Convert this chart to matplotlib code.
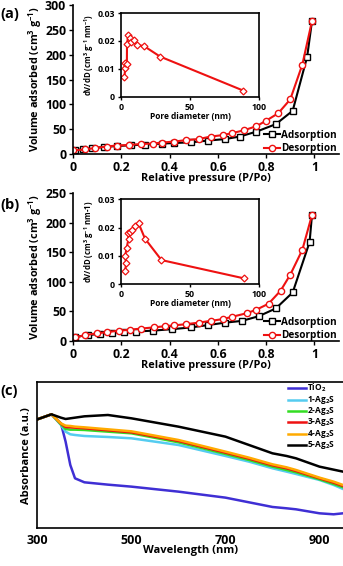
import matplotlib
matplotlib.use("Agg")
import matplotlib.pyplot as plt

FONT = "Open Sans"
plt.rcParams["font.family"] = [FONT, "DejaVu Sans"]
plt.rcParams["font.weight"] = "bold"
plt.rcParams["mathtext.fontset"] = "custom"
plt.rcParams["mathtext.rm"] = FONT + ":bold"
plt.rcParams["mathtext.bf"] = FONT + ":bold"
plt.rcParams["mathtext.it"] = FONT + ":bold"
plt.rcParams["mathtext.default"] = "bf"

# ---- (a) isotherm ----
a_ads_p = [0.01, 0.04, 0.08, 0.13, 0.18, 0.24, 0.30, 0.37, 0.42, 0.49, 0.56, 0.63, 0.69, 0.76, 0.84, 0.91, 0.97, 0.99]
a_ads_v = [7, 10, 12, 14, 16, 17.5, 19, 21, 22, 23.5, 27, 30, 35, 45, 60, 87, 196, 268]
a_des_p = [0.00, 0.05, 0.09, 0.14, 0.18, 0.23, 0.28, 0.33, 0.37, 0.42, 0.47, 0.52, 0.57, 0.62, 0.66, 0.71, 0.76, 0.80, 0.85, 0.90, 0.95, 0.99]
a_des_v = [7, 9, 12, 15, 17, 18, 20, 21, 23, 25, 28, 30, 35, 38, 42, 48, 56, 67, 82, 110, 180, 268]
a_pore_d = [2.4, 3.0, 3.0, 4.2, 4.3, 5.3, 6.5, 7.0, 9.1, 11.5, 16.5, 28.3, 88.7]
a_pore_v = [0.0070, 0.0102, 0.0120, 0.0118, 0.0190, 0.0222, 0.0211, 0.0195, 0.0202, 0.0185, 0.0182, 0.0144, 0.0022]

# ---- (b) isotherm ----
b_ads_p = [0.01, 0.06, 0.11, 0.16, 0.21, 0.26, 0.33, 0.41, 0.49, 0.56, 0.63, 0.70, 0.77, 0.84, 0.91, 0.98, 0.99]
b_ads_v = [7, 10, 12, 14, 15, 16, 17.5, 20, 23, 27, 31, 34, 42, 55, 82, 167, 213]
b_des_p = [0.01, 0.05, 0.10, 0.14, 0.19, 0.235, 0.28, 0.335, 0.38, 0.42, 0.47, 0.52, 0.57, 0.62, 0.66, 0.72, 0.76, 0.81, 0.86, 0.90, 0.95, 0.99]
b_des_v = [6, 10, 13, 15, 17.5, 19, 21, 23, 25, 26.5, 28.5, 31, 34, 37, 41, 47, 53, 63, 85, 112, 154, 213]
b_pore_d = [2.9, 3.7, 2.9, 4.1, 5.4, 4.9, 6.6, 7.8, 9.8, 12.7, 17.3, 29.3, 89.5]
b_pore_v = [0.0047, 0.0073, 0.0099, 0.0129, 0.0161, 0.0181, 0.0184, 0.0191, 0.0206, 0.0215, 0.0161, 0.0085, 0.0020]

# ---- (c) UV-vis ----
wl = [300, 330, 350, 360, 370, 380, 400, 450, 500, 600, 700, 750, 800, 830, 850, 900, 930, 950]
abs_tio2 = [3.27, 3.42, 3.15, 2.60, 1.90, 1.50, 1.38, 1.31, 1.25, 1.10, 0.92, 0.78, 0.64, 0.60, 0.57, 0.45, 0.42, 0.45]
abs_1 = [3.27, 3.42, 3.10, 2.90, 2.82, 2.80, 2.77, 2.74, 2.70, 2.50, 2.17, 2.00, 1.80, 1.70, 1.63, 1.45, 1.30, 1.18]
abs_2 = [3.27, 3.42, 3.12, 2.98, 2.96, 2.96, 2.95, 2.90, 2.85, 2.58, 2.23, 2.05, 1.85, 1.75, 1.68, 1.47, 1.33, 1.23]
abs_3 = [3.27, 3.42, 3.14, 3.04, 3.03, 3.02, 3.00, 2.94, 2.88, 2.62, 2.27, 2.09, 1.89, 1.80, 1.72, 1.50, 1.37, 1.27]
abs_4 = [3.27, 3.42, 3.15, 3.08, 3.07, 3.05, 3.03, 2.97, 2.91, 2.65, 2.30, 2.12, 1.92, 1.83, 1.75, 1.52, 1.40, 1.30]
abs_5 = [3.27, 3.42, 3.32, 3.28, 3.30, 3.32, 3.36, 3.40, 3.30, 3.05, 2.75, 2.50, 2.25, 2.17, 2.10, 1.85, 1.76, 1.70]
uv_labels = ["TiO$_2$", "1-Ag$_2$S", "2-Ag$_2$S", "3-Ag$_2$S", "4-Ag$_2$S", "5-Ag$_2$S"]
uv_colors = ["#3f2fd4", "#55ccf0", "#33dd22", "#ee1111", "#ffaa00", "#000000"]

RED = "#ee1111"

fig = plt.figure(figsize=(3.43, 5.66), dpi=100)


def iso_panel(rect, ads_p, ads_v, des_p, des_v, ymax, ystep):
    ax = fig.add_axes(rect)
    ax.plot(ads_p, ads_v, "-s", color="black", lw=1.5, ms=4.5, mfc="white", mec="black", mew=1, label="Adsorption")
    ax.plot(des_p, des_v, "-o", color=RED, lw=1.5, ms=4.5, mfc="white", mec=RED, mew=1, label="Desorption")
    ax.set_xlim(0, 1.1)
    ax.set_ylim(0, ymax)
    ax.set_xticks([0, 0.2, 0.4, 0.6, 0.8, 1])
    ax.set_xticklabels(["0", "0.2", "0.4", "0.6", "0.8", "1"])
    ax.set_yticks(range(0, ymax + 1, ystep))
    for s in ["top", "right"]:
        ax.spines[s].set_visible(False)
    for s in ["left", "bottom"]:
        ax.spines[s].set_linewidth(1.2)
    ax.tick_params(direction="out", length=3, width=1, labelsize=8.8, pad=2)
    for t in ax.get_xticklabels() + ax.get_yticklabels():
        t.set_fontweight("bold")
    ax.set_xlabel("Relative pressure (P/Po)", fontsize=7.8, fontweight="bold", labelpad=-1)
    ax.set_ylabel("Volume adsorbed (cm$^{3}$ g$^{-1}$)", fontsize=7.8, fontweight="bold", labelpad=1)
    ax.legend(loc="lower right", bbox_to_anchor=(1.02, -0.05), frameon=False, fontsize=7.2,
              handlelength=1.6, handletextpad=0.1, borderpad=0.2, labelspacing=0.25)
    return ax


def inset_panel(rect, d, v, ylabel):
    ax = fig.add_axes(rect)
    ax.plot(d, v, "-D", color=RED, lw=1.5, ms=3.5, mfc="white", mec=RED, mew=0.9)
    ax.set_xlim(0, 100)
    ax.set_ylim(0, 0.03)
    ax.set_xticks([0, 50, 100])
    ax.set_yticks([0, 0.01, 0.02, 0.03])
    ax.set_yticklabels(["0", "0.01", "0.02", "0.03"])
    for s in ax.spines.values():
        s.set_linewidth(1.2)
    ax.tick_params(direction="out", length=2.5, width=1, labelsize=6.3, pad=2)
    for t in ax.get_xticklabels() + ax.get_yticklabels():
        t.set_fontweight("bold")
    ax.set_xlabel("Pore diameter (nm)", fontsize=6, fontweight="bold", labelpad=0)
    ax.set_ylabel(ylabel, fontsize=5.6, fontweight="bold", labelpad=1)
    return ax


iso_panel([0.213, 0.728, 0.774, 0.263], a_ads_p, a_ads_v, a_des_p, a_des_v, 300, 50)
inset_panel([0.353, 0.829, 0.402, 0.148], a_pore_d, a_pore_v, "dV/dD (cm$^{3}$ g$^{-1}$ nm$^{-1}$)")

iso_panel([0.213, 0.3975, 0.774, 0.2615], b_ads_p, b_ads_v, b_des_p, b_des_v, 250, 50)
inset_panel([0.353, 0.498, 0.402, 0.150], b_pore_d, b_pore_v, "dV/dD (cm$^{3}$ g$^{-1}$ nm-1)")

# ---- (c) ----
axc = fig.add_axes([0.109, 0.0666, 0.891, 0.2585])
for y, lab, col in zip([abs_tio2, abs_1, abs_2, abs_3, abs_4, abs_5], uv_labels, uv_colors):
    axc.plot(wl, y, color=col, lw=1.8)
axc.set_xlim(300, 950)
axc.set_ylim(0, 4.39)
axc.set_xticks([300, 500, 700, 900])
axc.set_yticks([])
axc.spines["right"].set_visible(False)
for s in ["left", "bottom", "top"]:
    axc.spines[s].set_linewidth(1.2)
axc.tick_params(direction="out", length=0, labelsize=9, pad=4)
for t in axc.get_xticklabels():
    t.set_fontweight("bold")
axc.set_xlabel("Wavelength (nm)", fontsize=8, fontweight="bold", labelpad=-1)
axc.set_ylabel("Absorbance (a.u.)", fontsize=8, fontweight="bold", labelpad=4)

# compact legend (entries tighter than matplotlib's legend allows)
for i, (lab, col) in enumerate(zip(uv_labels, uv_colors)):
    ly = 0.958 - i * 0.078
    axc.plot([0.82, 0.879], [ly, ly], color=col, lw=1.8, transform=axc.transAxes, clip_on=False)
    axc.text(0.882, ly, lab, fontsize=6, fontweight="bold", va="center", ha="left",
             transform=axc.transAxes)

fig.text(0.0, 0.975, "(a)", fontsize=10.5, fontweight="bold", va="center")
fig.text(0.0, 0.638, "(b)", fontsize=10.5, fontweight="bold", va="center")
fig.text(0.0, 0.309, "(c)", fontsize=10.5, fontweight="bold", va="center")

fig.savefig("out.png", dpi=100)
